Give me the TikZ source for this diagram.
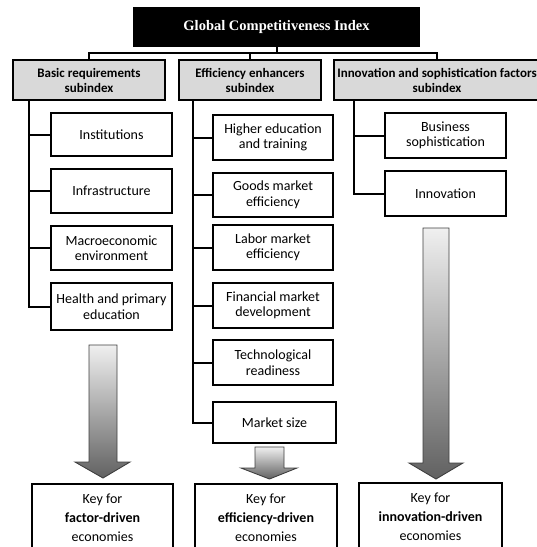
\documentclass[tikz,border=0pt]{standalone}
\usepackage{fontspec}
\setmainfont{Carlito}
\newfontfamily\titlefont{Liberation Serif}
\usetikzlibrary{calc}
\definecolor{subgray}{HTML}{D9D9D9}
\definecolor{arrowedge}{HTML}{3F3F3F}
\begin{document}
\begin{tikzpicture}[x=1pt,y=-1pt,
  conn/.style={line width=2pt, line cap=rect},
  topbox/.style={fill=black, text=white, minimum width=287pt, minimum height=40pt,
    inner sep=0pt, font=\titlefont\bfseries\fontsize{14.5}{16}\selectfont},
  subbox/.style={draw, line width=1.8pt, fill=subgray, minimum height=40pt, inner sep=0pt,
    align=center, font=\bfseries\fontsize{13}{15}\selectfont},
  itembox/.style={draw, line width=1.2pt, minimum height=44pt, minimum width=120pt, inner sep=0pt,
    align=center, font=\fontsize{14}{15.5}\selectfont},
  keybox/.style={draw, line width=1.8pt, minimum height=68pt, inner sep=0pt,
    align=center, font=\fontsize{14}{19}\selectfont},
  bigarrow/.style={draw=arrowedge, line width=0.9pt, line join=miter,
    top color=black!6, bottom color=black!62}
]
\useasboundingbox (0,0) rectangle (537,547);
\clip (0,0) rectangle (537,547);

% top
\node[topbox] (gci) at (276.5,27) {Global Competitiveness Index};

% subindices
\node[subbox, minimum width=152pt] (sub1) at (89,80) {Basic requirements\\subindex};
\node[subbox, minimum width=142pt] (sub2) at (250,80) {Efficiency enhancers\\subindex};
\node[subbox, minimum width=206pt] (sub3) at (437,80) {Innovation and sophistication factors\\subindex};

\coordinate (bus) at (276.5,53);
\draw[conn] (gci.south) -- (bus);
\draw[conn] (sub1.north) |- (bus) -| (sub3.north);
\draw[conn] (sub2.north) -- (sub2.north |- bus);

% basic requirements pillars
\node[itembox, minimum width=121pt, minimum height=43pt] (inst) at (111.5,134.5) {Institutions};
\node[itembox, minimum width=121pt] (infra) at (111.5,191) {Infrastructure};
\node[itembox, minimum width=121pt] (macro) at (111.5,248) {Macroeconomic\\environment};
\node[itembox, minimum width=121pt, minimum height=47pt] (health) at (111.5,306.5) {Health and primary\\education};

\coordinate (t1) at (29,100);
\draw[conn] (t1) |- (health.west);
\foreach \n in {inst,infra,macro}{\draw[conn] (t1 |- \n.west) -- (\n.west);}

% efficiency enhancers pillars
\node[itembox, minimum height=45pt] (higher) at (273,137.5) {Higher education\\and training};
\node[itembox] (goods) at (273,195) {Goods market\\efficiency};
\node[itembox, minimum height=45pt] (labor) at (273,247.5) {Labor market\\efficiency};
\node[itembox, minimum height=45pt] (fin) at (273,305.5) {Financial market\\development};
\node[itembox, minimum height=45pt] (tech) at (273,362.5) {Technological\\readiness};
\node[itembox, minimum width=123pt, minimum height=41pt] (msize) at (274.5,422.5) {Market size};

\coordinate (t2) at (193,100);
\draw[conn] (t2) |- (msize.west);
\foreach \n in {higher,goods,labor,fin,tech}{\draw[conn] (t2 |- \n.west) -- (\n.west);}

% innovation pillars
\node[itembox, minimum width=121pt, minimum height=45pt] (bus1) at (445.5,135.5) {Business\\sophistication};
\node[itembox, minimum width=121pt, minimum height=45pt] (innov) at (445.5,193.5) {Innovation};

\coordinate (t3) at (354,100);
\draw[conn] (t3) |- (innov.west);
\draw[conn] (t3 |- bus1.west) -- (bus1.west);

% block arrows
\path[bigarrow] (89,345) -- (117,345) -- (117,462) -- (130,462) -- (103,478) -- (75,462) -- (89,462) -- cycle;
\path[bigarrow] (255,447) -- (284,447) -- (284,468) -- (297,468) -- (269.5,479) -- (241,468) -- (255,468) -- cycle;
\path[bigarrow] (423,228) -- (449,228) -- (449,463) -- (463,463) -- (436,479) -- (409,463) -- (423,463) -- cycle;

% key boxes
\node[keybox, minimum width=141pt] (key1) at (102.5,518) {Key for\\\textbf{factor-driven}\\economies};
\node[keybox, minimum width=142pt] (key2) at (266,518) {Key for\\\textbf{efficiency-driven}\\economies};
\node[keybox, minimum width=143pt] (key3) at (430.5,517) {Key for\\\textbf{innovation-driven}\\economies};
\end{tikzpicture}
\end{document}
